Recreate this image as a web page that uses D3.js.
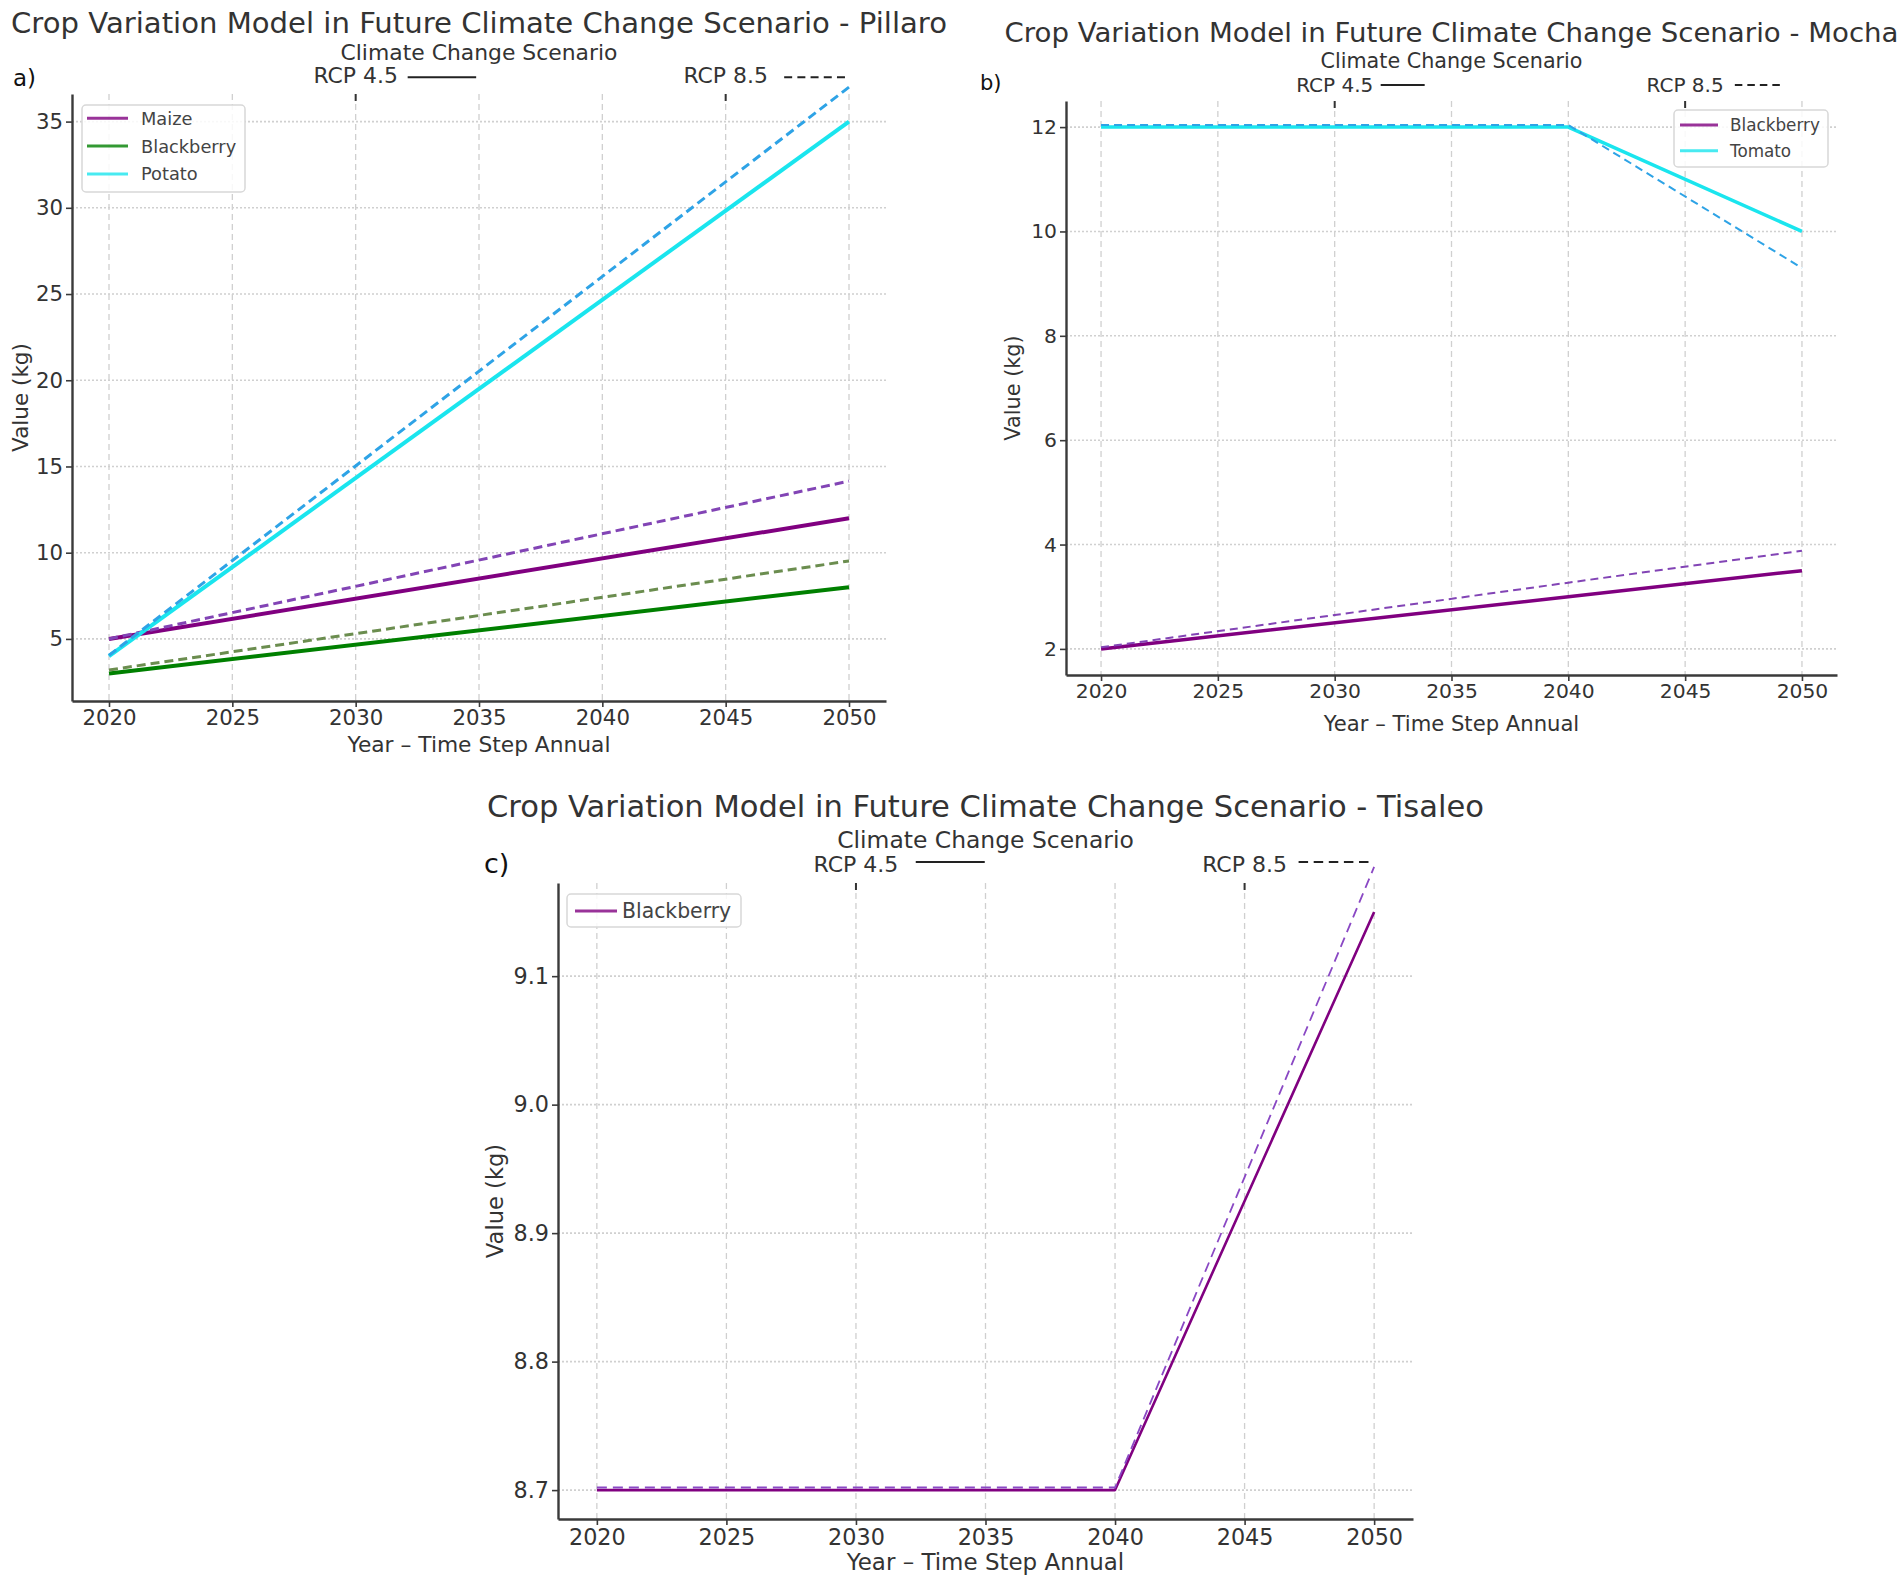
<!DOCTYPE html>
<html>
<head>
<meta charset="utf-8">
<script src="https://cdn.jsdelivr.net/npm/d3@7"></script>
<style>
  body { margin: 0; background: #fff; }
  text { font-family: 'DejaVu Sans', sans-serif; fill: #333; }
</style>
</head>
<body>
<svg id="chart" width="1901" height="1586"></svg>
<script>

// ---- data ----
const yearTicks = [2020, 2025, 2030, 2035, 2040, 2045, 2050];
const scenarioYears = [2030, 2045];
const scenarioLabels = ['RCP 4.5', 'RCP 8.5'];

const pillaroYears = [2020, 2050];
const pillaroCrops = ['Maize', 'Blackberry', 'Potato'];
const pillaroRcp45 = [[5, 12], [3, 8], [4, 35]];
const pillaroRcp85 = [[5, 14.15], [3.2, 9.52], [4.05, 37]];
const pillaroTicks = [5, 10, 15, 20, 25, 30, 35];

const mochaYears = [2020, 2040, 2050];
const mochaCrops = ['Blackberry', 'Tomato'];
const mochaRcp45 = [[2, 3, 3.5], [12, 12, 10]];
const mochaRcp85 = [[2.03, 3.27, 3.88], [12.04, 12.04, 9.3]];
const mochaTicks = [2, 4, 6, 8, 10, 12];

const tisaleoYears = [2020, 2040, 2050];
const tisaleoCrops = ['Blackberry'];
const tisaleoRcp45 = [[8.7, 8.7, 9.15]];
const tisaleoRcp85 = [[8.702, 8.702, 9.185]];
const tisaleoTicks = [8.7, 8.8, 8.9, 9.0, 9.1];


const svg = d3.select('#chart');

const panels = [
  {
    name: 'Pillaro', tag: 'a)',
    years: pillaroYears, crops: pillaroCrops, rcp45: pillaroRcp45, rcp85: pillaroRcp85,
    yTicks: pillaroTicks, yDomain: [1.4, 36.6], yFormat: d3.format('d'),
    solid: ['#800080', '#008000', '#1ae5ee'],
    dashed: ['#8244b5', '#6b8d4f', '#2ea3e6'],
    box: {x0: 72, x1: 886, y0: 94, y1: 701},
    font: {title: 28.9, sub: 21.9, rcp: 21.9, label: 21.5, tick: 21.3, legend: 17.8, tag: 23},
    titleY: 32.5, titleW: 936, subY: 60, subW: 277,
    rcpY: 83, rcpLineY: 77.3, rcpOff: [52, 58.5], rcpLen: [68.5, 61], rcpDash: '8,5.2',
    tagX: 13, tagY: 86,
    xTickY: 725, xLabelY: 752, xLabelW: 263, yLabelX: 28,
    legend: {x: 82, y: 105, w: 163, h: 87, l0: 87, l1: 128, tx: 141, r0: 118.3, dy: 27.8, lw: 3},
    lw: 4, dlw: 3, dash: '9,5'
  },
  {
    name: 'Mocha', tag: 'b)',
    years: mochaYears, crops: mochaCrops, rcp45: mochaRcp45, rcp85: mochaRcp85,
    yTicks: mochaTicks, yDomain: [1.5, 12.5], yFormat: d3.format('d'),
    solid: ['#800080', '#1ae5ee'],
    dashed: ['#8244b5', '#2ea3e6'],
    box: {x0: 1066, x1: 1837, y0: 101, y1: 675},
    font: {title: 27.45, sub: 20.7, rcp: 20, label: 20.85, tick: 20.3, legend: 16.8, tag: 21},
    titleY: 41.7, titleW: 894, subY: 68.3, subW: 262,
    rcpY: 91.7, rcpLineY: 85, rcpOff: [46, 49.7], rcpLen: [44, 45.6], rcpDash: '7.5,5',
    tagX: 980, tagY: 90,
    xTickY: 698, xLabelY: 731, xLabelW: 255.5, yLabelX: 1020,
    legend: {x: 1674, y: 110, w: 154, h: 57, l0: 1680, l1: 1718, tx: 1730, r0: 125, dy: 25.7, lw: 3},
    lw: 3.5, dlw: 2, dash: '8,5'
  },
  {
    name: 'Tisaleo', tag: 'c)',
    years: tisaleoYears, crops: tisaleoCrops, rcp45: tisaleoRcp45, rcp85: tisaleoRcp85,
    yTicks: tisaleoTicks, yDomain: [8.6775, 9.1725], yFormat: d3.format('.1f'),
    solid: ['#800080'],
    dashed: ['#8a48c4'],
    box: {x0: 558, x1: 1413, y0: 883, y1: 1519},
    font: {title: 30.4, sub: 23.4, rcp: 22, label: 22.6, tick: 22.3, legend: 20.4, tag: 27},
    titleY: 816.7, titleW: 997, subY: 848.3, subW: 296.6,
    rcpY: 872, rcpLineY: 862, rcpOff: [59.8, 54], rcpLen: [69, 70], rcpDash: '9.5,5.6',
    tagX: 484, tagY: 873,
    xTickY: 1545, xLabelY: 1570, xLabelW: 277.5, yLabelX: 503,
    legend: {x: 567, y: 894, w: 174, h: 33, l0: 575, l1: 617, tx: 622, r0: 911, dy: 0, lw: 3},
    lw: 2.6, dlw: 1.8, dash: '10,6'
  }
];


function drawPanel(p) {

  const g = svg.append('g').attr('class', 'panel panel-' + p.name.toLowerCase());
  const b = p.box;

  const x = d3.scaleLinear().domain([2018.5, 2051.5]).range([b.x0, b.x1]);
  const y = d3.scaleLinear().domain(p.yDomain).range([b.y1, b.y0]);

  // grid
  g.append('g').selectAll('line').data(yearTicks).join('line')
    .attr('x1', d => x(d)).attr('x2', d => x(d))
    .attr('y1', b.y0).attr('y2', b.y1)
    .attr('stroke', '#d0d0d0').attr('stroke-width', 1.3)
    .attr('stroke-dasharray', '6,4');

  g.append('g').selectAll('line').data(p.yTicks).join('line')
    .attr('x1', b.x0).attr('x2', b.x1)
    .attr('y1', d => y(d)).attr('y2', d => y(d))
    .attr('stroke', '#d0d0d0').attr('stroke-width', 1.6)
    .attr('stroke-dasharray', '2,2');

  // axes
  const tickSize = 6;
  const xPad = p.xTickY - b.y1 - tickSize - 0.71 * p.font.tick;
  const xAxis = g.append('g')
    .attr('transform', 'translate(0,' + b.y1 + ')')
    .call(d3.axisBottom(x).tickValues(yearTicks).tickFormat(d3.format('d'))
      .tickSize(tickSize).tickSizeOuter(0).tickPadding(xPad));

  const yAxis = g.append('g')
    .attr('transform', 'translate(' + b.x0 + ',0)')
    .call(d3.axisLeft(y).tickValues(p.yTicks).tickFormat(p.yFormat)
      .tickSize(tickSize).tickSizeOuter(0).tickPadding(3));

  [xAxis, yAxis].forEach(function(a) {
    a.select('.domain').attr('stroke', '#3a3a3a').attr('stroke-width', 2.4);
    a.selectAll('.tick line').attr('stroke', '#3a3a3a').attr('stroke-width', 1.6);
    a.selectAll('.tick text')
      .attr('fill', '#333')
      .style('font-family', "'DejaVu Sans', sans-serif")
      .style('font-size', p.font.tick + 'px');
  });

  // top scenario axis marks
  g.append('g').selectAll('line').data(scenarioYears).join('line')
    .attr('x1', d => x(d)).attr('x2', d => x(d))
    .attr('y1', b.y0).attr('y2', b.y0 + 7)
    .attr('stroke', '#333').attr('stroke-width', 2);

  // crop lines
  const line = d3.line()
    .x(function(d, i) { return x(p.years[i]); })
    .y(function(d) { return y(d); });

  p.crops.forEach(function(crop, i) {
    g.append('path')
      .datum(p.rcp45[i])
      .attr('d', line)
      .attr('fill', 'none')
      .attr('stroke', p.solid[i])
      .attr('stroke-width', p.lw)
      .attr('stroke-linejoin', 'round');

    g.append('path')
      .datum(p.rcp85[i])
      .attr('d', line)
      .attr('fill', 'none')
      .attr('stroke', p.dashed[i])
      .attr('stroke-width', p.dlw)
      .attr('stroke-dasharray', p.dash);
  });

  // titles and labels
  const cx = (b.x0 + b.x1) / 2;

  g.append('text')
    .attr('x', cx).attr('y', p.titleY)
    .attr('text-anchor', 'middle')
    .attr('textLength', p.titleW).attr('lengthAdjust', 'spacingAndGlyphs')
    .style('font-size', p.font.title + 'px')
    .text('Crop Variation Model in Future Climate Change Scenario - ' + p.name);

  g.append('text')
    .attr('x', cx).attr('y', p.subY)
    .attr('text-anchor', 'middle')
    .attr('textLength', p.subW).attr('lengthAdjust', 'spacingAndGlyphs')
    .style('font-size', p.font.sub + 'px')
    .text('Climate Change Scenario');

  scenarioLabels.forEach(function(label, i) {
    const sx = x(scenarioYears[i]);
    g.append('text')
      .attr('x', sx).attr('y', p.rcpY)
      .attr('text-anchor', 'middle')
      .style('font-size', p.font.rcp + 'px')
      .text(label);
    g.append('line')
      .attr('x1', sx + p.rcpOff[i]).attr('x2', sx + p.rcpOff[i] + p.rcpLen[i])
      .attr('y1', p.rcpLineY).attr('y2', p.rcpLineY)
      .attr('stroke', '#222').attr('stroke-width', 2)
      .attr('stroke-dasharray', i === 1 ? p.rcpDash : null);
  });

  g.append('text')
    .attr('x', p.tagX).attr('y', p.tagY)
    .style('font-size', p.font.tag + 'px')
    .style('fill', '#111')
    .text(p.tag);

  g.append('text')
    .attr('x', cx).attr('y', p.xLabelY)
    .attr('text-anchor', 'middle')
    .attr('textLength', p.xLabelW).attr('lengthAdjust', 'spacingAndGlyphs')
    .style('font-size', p.font.label + 'px')
    .text('Year \u2013 Time Step Annual');

  g.append('text')
    .attr('transform', 'translate(' + p.yLabelX + ',' + ((b.y0 + b.y1) / 2) + ') rotate(-90)')
    .attr('text-anchor', 'middle')
    .style('font-size', p.font.label + 'px')
    .text('Value (kg)');

  // legend
  const L = p.legend;
  const lg = g.append('g').attr('class', 'legend');
  lg.append('rect')
    .attr('x', L.x).attr('y', L.y).attr('width', L.w).attr('height', L.h)
    .attr('rx', 4)
    .attr('fill', '#fff').attr('fill-opacity', 0.85)
    .attr('stroke', '#d8d8d8').attr('stroke-width', 1.5);

  const rows = lg.selectAll('g.row').data(p.crops).join('g')
    .attr('class', 'row')
    .attr('transform', function(d, i) { return 'translate(0,' + (L.r0 + i * L.dy) + ')'; });

  rows.append('line')
    .attr('x1', L.l0).attr('x2', L.l1)
    .attr('stroke', function(d, i) { return p.solid[i]; })
    .attr('stroke-opacity', 0.8)
    .attr('stroke-width', L.lw);

  rows.append('text')
    .attr('x', L.tx).attr('dy', '0.36em')
    .style('font-size', p.font.legend + 'px')
    .style('fill', '#444')
    .text(String);
}

panels.forEach(drawPanel);

</script>
</body>
</html>
